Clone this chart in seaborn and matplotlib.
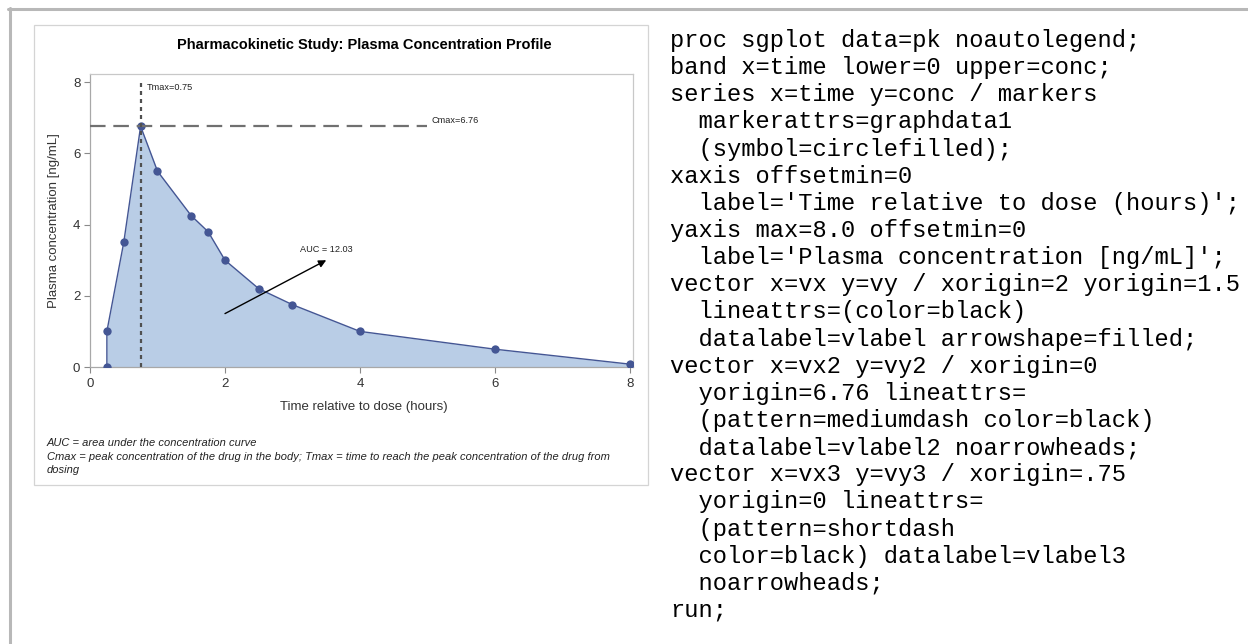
import numpy as np
import matplotlib
matplotlib.use("Agg")
import matplotlib.pyplot as plt
from matplotlib.lines import Line2D
from matplotlib.patches import Rectangle
import seaborn as sns

# Concentration-time data
time = [0.25, 0.25, 0.5, 0.75, 1.0, 1.5, 1.75, 2.0, 2.5, 3.0, 4.0, 6.0, 8.0]
conc = [0.0, 1.0, 3.5, 6.76, 5.5, 4.25, 3.8, 3.0, 2.2, 1.75, 1.0, 0.5, 0.08]

# Summary values
auc_value = 12.03
cmax_line_end = 5.0
tmax_line_top = 8.0
auc_arrow_from = (2.0, 1.5)
auc_arrow_to = (3.5, 3.0)

x_ticks = [0, 2, 4, 6, 8]
y_ticks = [0, 2, 4, 6, 8]

title = "Pharmacokinetic Study: Plasma Concentration Profile"
x_label = "Time relative to dose (hours)"
y_label = "Plasma concentration [ng/mL]"
footnotes = [
    "AUC = area under the concentration curve",
    "Cmax = peak concentration of the drug in the body; Tmax = time to reach the peak concentration of the drug from",
    "dosing",
]

code_lines = [
    "proc sgplot data=pk noautolegend;",
    "band x=time lower=0 upper=conc;",
    "series x=time y=conc / markers",
    "  markerattrs=graphdata1",
    "  (symbol=circlefilled);",
    "xaxis offsetmin=0",
    "  label='Time relative to dose (hours)';",
    "yaxis max=8.0 offsetmin=0",
    "  label='Plasma concentration [ng/mL]';",
    "vector x=vx y=vy / xorigin=2 yorigin=1.5",
    "  lineattrs=(color=black)",
    "  datalabel=vlabel arrowshape=filled;",
    "vector x=vx2 y=vy2 / xorigin=0",
    "  yorigin=6.76 lineattrs=",
    "  (pattern=mediumdash color=black)",
    "  datalabel=vlabel2 noarrowheads;",
    "vector x=vx3 y=vy3 / xorigin=.75",
    "  yorigin=0 lineattrs=",
    "  (pattern=shortdash",
    "  color=black) datalabel=vlabel3",
    "  noarrowheads;",
    "run;",
]

sns.set_theme(style="white")
plt.rcParams["font.family"] = ["Liberation Sans", "DejaVu Sans"]

W, H = 1248, 644
fig = plt.figure(figsize=(W / 100, H / 100), dpi=100)
fig.patch.set_facecolor("white")


def fx(px):
    return px / W


def fy(py):
    return 1 - py / H


# Page frame (top and left edges)
fig.add_artist(Line2D([fx(8), fx(1248)], [fy(9.3), fy(9.3)], color="#b8b8b8", lw=2.2))
fig.add_artist(Line2D([fx(9.6), fx(9.6)], [fy(8.2), fy(644)], color="#b8b8b8", lw=2.2))

# Chart panel border
fig.add_artist(Rectangle((fx(34), fy(485)), fx(648) - fx(34), fy(25) - fy(485),
                         fill=False, edgecolor="#d4d4d4", lw=0.9))

# Plot area
left, right, top, bottom = 90, 633, 74, 367
ax = fig.add_axes([fx(left), fy(bottom), fx(right) - fx(left), fy(top) - fy(bottom)])

line_color = "#445694"
band_color = "#b9cde6"

ax.fill_between(time, 0, conc, color=band_color, lw=0, zorder=1)
sns.lineplot(x=time, y=conc, estimator=None, sort=False, ax=ax, color=line_color,
             lw=1.0, marker="o", markersize=6, markeredgewidth=0,
             markerfacecolor=line_color, zorder=3)

cmax = max(conc)
tmax = time[conc.index(cmax)]

# Cmax reference (medium dash)
ax.plot([0, cmax_line_end], [cmax, cmax], color="#707070", lw=1.6,
        dashes=(7, 3.5), zorder=4)
ax.annotate(f"Cmax={cmax:.2f}", xy=(cmax_line_end, cmax), xytext=(2.9, 4.5),
            textcoords="offset points", ha="left", va="center", fontsize=6.6,
            color="#222222")

# Tmax reference (short dash)
ax.plot([tmax, tmax], [0, tmax_line_top], color="#505050", lw=1.6,
        dashes=(1.8, 1.8), zorder=4)
ax.annotate(f"Tmax={tmax:.2f}", xy=(tmax, tmax_line_top), xytext=(4.5, -3.8),
            textcoords="offset points", ha="left", va="center", fontsize=6.6,
            color="#222222")

# AUC arrow
ax.annotate("", xy=auc_arrow_to, xytext=auc_arrow_from,
            arrowprops=dict(arrowstyle="-|>", color="black", lw=1.0,
                            mutation_scale=11, shrinkA=0, shrinkB=0), zorder=5)
ax.annotate(f"AUC = {auc_value:.2f}", xy=auc_arrow_to, xytext=(0, 7.9),
            textcoords="offset points", ha="center", va="center", fontsize=6.6,
            color="#222222")

ax.set_xlim(0, 8.045)
ax.set_ylim(0, 8.23)
ax.set_xticks(x_ticks)
ax.set_yticks(y_ticks)
ax.set_xlabel("")
ax.set_ylabel("")
ax.tick_params(axis="both", which="both", direction="out", length=4.5, width=0.8,
               color="#8a8a8a", labelsize=9.5, labelcolor="#333333", pad=2.5,
               bottom=True, left=True)
ax.tick_params(axis="x", pad=3.5)
for side in ["top", "right"]:
    ax.spines[side].set_color("#c8c8c8")
    ax.spines[side].set_linewidth(0.9)
for side in ["left", "bottom"]:
    ax.spines[side].set_color("#a8a8a8")
    ax.spines[side].set_linewidth(0.9)
ax.set_facecolor("white")

# Titles and axis labels
fig.text(fx(364.5), fy(45), title, ha="center", va="center", fontsize=10.5,
         fontweight="bold", color="black")
fig.text(fx(364), fy(407), x_label, ha="center", va="center", fontsize=9.5,
         color="#333333")
fig.text(fx(54), fy(221), y_label, ha="center", va="center", fontsize=9.5,
         color="#333333", rotation=90)

# Footnotes
for i, note in enumerate(footnotes):
    fig.text(fx(47), fy(443 + 13.5 * i), note, ha="left", va="center",
             fontsize=8.0, style="italic", color="#222222")

# Program listing
for i, line in enumerate(code_lines):
    fig.text(fx(670), fy(47 + 27.14 * i), line, ha="left", va="baseline",
             fontsize=17.1, family=["Liberation Mono", "DejaVu Sans Mono"],
             color="black")

fig.savefig("out.png", dpi=100, facecolor="white")
